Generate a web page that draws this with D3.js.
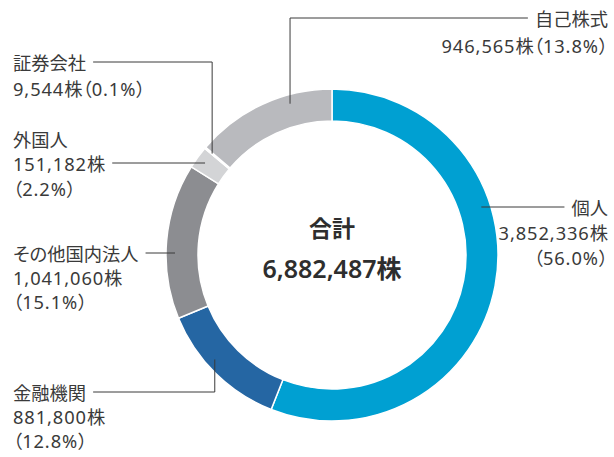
<!DOCTYPE html>
<html>
<head>
<meta charset="utf-8">
<script src="https://cdn.jsdelivr.net/npm/d3@7"></script>
<style>
  html, body { margin: 0; padding: 0; background: #fff; }
  svg text { font-family: "Noto Sans", "Noto Sans CJK JP", sans-serif; }
  svg text.lbl { font-feature-settings: "palt"; }
  svg text.lbl tspan.num { letter-spacing: 0.9px; }
</style>
</head>
<body>
<svg id="chart" width="614" height="457"></svg>
<script>
// Shareholder categories, clockwise from 12 o'clock
const categories = ["個人", "金融機関", "その他国内法人", "外国人", "証券会社", "自己株式"];
const shares = [3852336, 881800, 1041060, 151182, 9544, 946565];
const percents = ["56.0%", "12.8%", "15.1%", "2.2%", "0.1%", "13.8%"];
const colors = ["#00a0d2", "#2566a3", "#8c8d91", "#d3d4d6", "#e2e3e4", "#b9babe"];
const totalLabel = "合計";

const fmt = d3.format(",");
const total = d3.sum(shares);

const svg = d3.select("#chart");
const cx = 332, cy = 255, outerR = 166, innerR = 134, anchorR = 157;
const textColor = "#3a3a3a", lineColor = "#3a3a3a";

const data = categories.map((c, i) => ({ name: c, value: shares[i], pct: percents[i], color: colors[i] }));

const pie = d3.pie().value(d => d.value).sort(null);
const arcs = pie(data);
const arc = d3.arc().innerRadius(innerR).outerRadius(outerR);

const g = svg.append("g").attr("transform", `translate(${cx},${cy})`);
g.selectAll("path.slice")
  .data(arcs)
  .join("path")
  .attr("class", "slice")
  .attr("d", arc)
  .attr("fill", d => d.data.color)
  .attr("stroke", "#fff")
  .attr("stroke-width", 1.5);

// Centre total
g.append("text")
  .attr("text-anchor", "middle").attr("dominant-baseline", "central")
  .attr("y", -27).attr("font-size", 23).attr("font-weight", 700)
  .attr("fill", "#2e2e2e").text(totalLabel);
g.append("text")
  .attr("text-anchor", "middle").attr("dominant-baseline", "central")
  .attr("y", 13).attr("font-size", 25).attr("font-weight", 600)
  .attr("fill", "#2e2e2e").text(fmt(total) + "株");

// Label layout: text block position, lines, and leader style.
// angle = where the leader meets the ring (degrees clockwise from top)
const layout = {
  "自己株式":     { side: "right", x: 608, ys: [18, 45],      leaderLine: 0, angle: -15.5, elbow: "vh" },
  "個人":         { side: "right", x: 608, ys: [207, 232, 257], leaderLine: 0, angle: 72, elbow: "h" },
  "証券会社":     { side: "left",  x: 13,  ys: [62, 88],      leaderLine: 0, angle: null, elbow: "vh" },
  "外国人":       { side: "left",  x: 13,  ys: [139, 163, 188], leaderLine: 1, angle: null, elbow: "h" },
  "その他国内法人": { side: "left",  x: 13,  ys: [253, 277, 301], leaderLine: 0, angle: -90.5, elbow: "h" },
  "金融機関":     { side: "left",  x: 13,  ys: [392, 416, 440], leaderLine: 0, angle: 228.3, elbow: "vh" }
};

// split a label line into CJK runs and numeric runs (numbers get a touch of tracking)
const cjk = /[\u3000-\u9fff\uff00-\uffef]+/g;
function runs(str) {
  const out = [];
  let last = 0, m;
  while ((m = cjk.exec(str)) !== null) {
    if (m.index > last) out.push({ t: str.slice(last, m.index), num: true });
    out.push({ t: m[0], num: false });
    last = m.index + m[0].length;
  }
  if (last < str.length) out.push({ t: str.slice(last), num: true });
  return out;
}

const labels = svg.append("g");
arcs.forEach(a => {
  const d = a.data;
  const L = layout[d.name];
  const cnt = fmt(d.value) + "株";
  const lines = L.ys.length === 2
    ? [d.name, cnt + "（" + d.pct + "）"]
    : [d.name, cnt, "（" + d.pct + "）"];

  const texts = lines.map((t, i) => {
    const el = labels.append("text")
      .attr("class", "lbl")
      .attr("x", L.x).attr("y", L.ys[i])
      .attr("dominant-baseline", "central")
      .attr("text-anchor", L.side === "right" ? "end" : "start")
      .attr("font-size", 18.3).attr("fill", textColor);
    runs(t).forEach(r => el.append("tspan").attr("class", r.num ? "num" : null).text(r.t));
    return el;
  });

  // anchor point on the ring
  const ang = (L.angle === null ? (a.startAngle + a.endAngle) / 2 * 180 / Math.PI : L.angle) * Math.PI / 180;
  const ax = cx + anchorR * Math.sin(ang);
  const ay = cy - anchorR * Math.cos(ang);

  const lineY = L.ys[L.leaderLine];
  const bb = texts[L.leaderLine].node().getBBox();
  const gap = 7;
  const tx = L.side === "right" ? bb.x - gap : bb.x + bb.width + gap;

  let pts;
  if (L.elbow === "h") pts = [[tx, lineY], [ax, lineY]];
  else pts = [[tx, lineY], [ax, lineY], [ax, ay]];

  labels.append("path")
    .attr("d", d3.line()(pts))
    .attr("fill", "none").attr("stroke", lineColor).attr("stroke-width", 1);
});
</script>
</body>
</html>
